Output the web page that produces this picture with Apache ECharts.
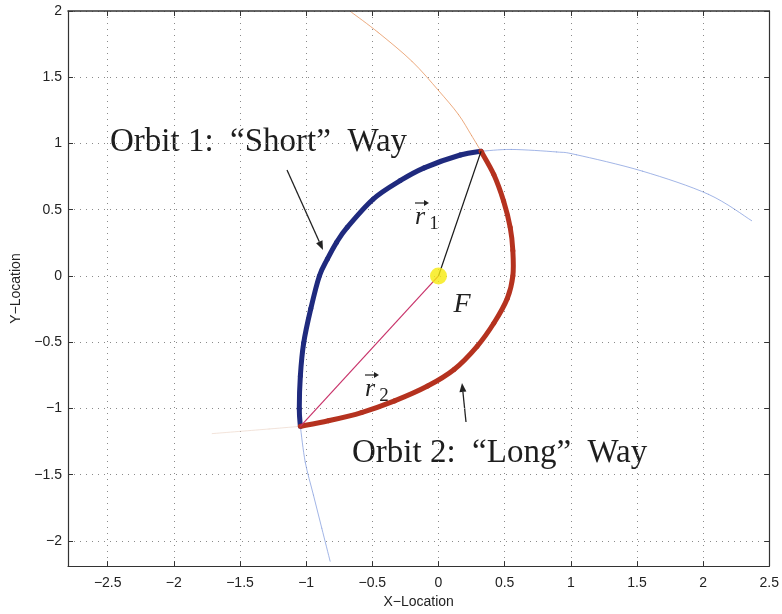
<!DOCTYPE html>
<html>
<head>
<meta charset="utf-8">
<script src="https://cdn.jsdelivr.net/npm/echarts@6/dist/echarts.min.js"></script>
<style>html,body{margin:0;padding:0;background:#fff;}#c{width:782px;height:614px;}</style>
</head>
<body>
<div id="c"></div>
<script>
// ---- data ----
const xTicks = [-2.5, -2, -1.5, -1, -0.5, 0, 0.5, 1, 1.5, 2, 2.5];
const yTicks = [-2, -1.5, -1, -0.5, 0, 0.5, 1, 1.5, 2];
const focus = [[0, 0]];
const p1 = [0.322, 0.941];
const p2 = [-1.044, -1.135];
const orbit1Short = [[0.322,0.941],[0.165,0.913],[-0.108,0.816],[-0.29,0.719],[-0.495,0.579],[-0.69,0.367],[-0.77,0.254],[-0.84,0.127],[-0.9,0.0],[-0.965,-0.247],[-1.019,-0.507],[-1.044,-0.756],[-1.052,-1.003],[-1.044,-1.135]];
const orbit2Long = [[0.322,0.941],[0.418,0.766],[0.492,0.566],[0.542,0.367],[0.562,0.192],[0.562,0.0],[0.52,-0.17],[0.418,-0.357],[0.292,-0.531],[0.118,-0.706],[-0.082,-0.831],[-0.332,-0.943],[-0.582,-1.031],[-0.832,-1.093],[-1.044,-1.135]];
const orbit1FarRight = [[0.322,0.941],[0.55,0.955],[0.892,0.936],[1.042,0.915],[1.542,0.791],[2.041,0.616],[2.367,0.417]];
const orbit1FarDown = [[-1.044,-1.135],[-1.007,-1.405],[-0.945,-1.654],[-0.882,-1.904],[-0.819,-2.153]];
const orbit2FarUp = [[0.322,0.941],[0.25,1.06],[0.15,1.22],[0.0,1.40],[-0.2,1.62],[-0.457,1.839],[-0.657,1.99]];
const orbit2FarLeft = [[-1.044,-1.135],[-1.28,-1.155],[-1.71,-1.19]];
const r1 = [[0, 0], p1];
const r2 = [[0, 0], p2];

const chart = echarts.init(document.getElementById('c'), null, {renderer: 'canvas'});
const tickFont = {fontFamily: 'Liberation Sans', fontSize: 14, color: '#222'};
const serif = 'Liberation Serif';
const axisCol = '#333';
const fmt = v => String(v).replace('-', '\u2212');
function xAx(pos, labels) {
  return {
    type: 'value', position: pos, min: -2.8, max: 2.5,
    axisLine: {show: true, onZero: false, lineStyle: {color: axisCol, width: pos === 'top' ? 1.6 : 1.2}},
    axisTick: {show: true, inside: true, length: 5, customValues: xTicks, lineStyle: {color: axisCol}},
    axisLabel: labels ? Object.assign({show: true, margin: 10, customValues: xTicks, formatter: fmt}, tickFont) : {show: false},
    splitLine: labels ? {show: true, lineStyle: {color: '#8a8a8a', type: [1, 5], width: 1}} : {show: false},
    name: labels ? 'X\u2212Location' : '', nameLocation: 'middle', nameGap: 27,
    nameTextStyle: {fontFamily: 'Liberation Sans', fontSize: 14, color: '#222'}
  };
}
function yAx(pos, labels) {
  return {
    type: 'value', position: pos, min: -2.19, max: 2,
    axisLine: {show: true, onZero: false, lineStyle: {color: axisCol, width: 1.2}},
    axisTick: {show: true, inside: true, length: 5, customValues: yTicks, lineStyle: {color: axisCol}},
    axisLabel: labels ? Object.assign({show: true, margin: 6, customValues: yTicks, formatter: fmt}, tickFont) : {show: false},
    splitLine: labels ? {show: true, lineStyle: {color: '#8a8a8a', type: [1, 5], width: 1}} : {show: false},
    name: labels ? 'Y\u2212Location' : '', nameLocation: 'middle', nameGap: 42,
    nameTextStyle: {fontFamily: 'Liberation Sans', fontSize: 14, color: '#222'}
  };
}
// smooth curve through the read points (Catmull-Rom, drawn through the axes' scale)
function curve(data, color, width, z, opacity) {
  return {
    type: 'custom', data: data, z: z, silent: true, clip: true,
    encode: {x: 0, y: 1},
    renderItem: function (params, api) {
      const i = params.dataIndex, n = data.length;
      if (i >= n - 1) return null;
      const P = k => api.coord(data[Math.max(0, Math.min(n - 1, k))]);
      const a = P(i - 1), b = P(i), c = P(i + 1), d = P(i + 2);
      return {
        type: 'bezierCurve',
        shape: {x1: b[0], y1: b[1], x2: c[0], y2: c[1],
          cpx1: b[0] + (c[0] - a[0]) / 6, cpy1: b[1] + (c[1] - a[1]) / 6,
          cpx2: c[0] - (d[0] - b[0]) / 6, cpy2: c[1] - (d[1] - b[1]) / 6},
        style: {stroke: color, lineWidth: width, fill: null, opacity: opacity == null ? 1 : opacity, lineCap: 'round'}
      };
    }
  };
}
function line(data, color, width, z) {
  return {type: 'line', data: data, symbol: 'none', z: z, silent: true,
    lineStyle: {color: color, width: width}};
}
function vecLabel(x, y, sub) {
  return {type: 'group', children: [
    {type: 'text', x: x, y: y, style: {text: 'r', font: 'italic 26px ' + serif, fill: '#222', textAlign: 'center', textVerticalAlign: 'middle'}},
    {type: 'text', x: x + 14, y: y + 7, style: {text: sub, font: '19px ' + serif, fill: '#222', textAlign: 'center', textVerticalAlign: 'middle'}},
    {type: 'line', shape: {x1: x - 5, y1: y - 14, x2: x + 7, y2: y - 14}, style: {stroke: '#222', lineWidth: 1.2}},
    {type: 'polygon', shape: {points: [[x + 9, y - 14], [x + 4, y - 17], [x + 4, y - 11]]}, style: {fill: '#222'}}
  ]};
}
function arrow(x1, y1, x2, y2) {
  const a = Math.atan2(y2 - y1, x2 - x1), L = 9, W = 3.5;
  const bx = x2 - L * Math.cos(a), by = y2 - L * Math.sin(a);
  return {type: 'group', children: [
    {type: 'line', shape: {x1: x1, y1: y1, x2: bx, y2: by}, style: {stroke: '#222', lineWidth: 1.3}},
    {type: 'polygon', shape: {points: [[x2, y2], [bx + W * Math.sin(a), by - W * Math.cos(a)], [bx - W * Math.sin(a), by + W * Math.cos(a)]]}, style: {fill: '#222'}}
  ]};
}

chart.setOption({
  animation: false,
  backgroundColor: '#fff',
  grid: {left: 68, top: 11, width: 708, height: 561, containLabel: false},
  xAxis: [xAx('bottom', true), xAx('top', false)],
  yAxis: [yAx('left', true), yAx('right', false)],
  series: [
    curve(orbit1FarRight, '#7d98dc', 0.9, 2, 0.8),
    curve(orbit1FarDown, '#7d98dc', 0.9, 2, 0.8),
    curve(orbit2FarUp, '#e58a4e', 0.9, 2, 0.8),
    curve(orbit2FarLeft, '#ead2c4', 0.9, 2, 0.7),
    curve(orbit1Short, '#1f2a7e', 5, 4),
    curve(orbit2Long, '#b5321f', 5, 4),
    line(r1, '#1a1a1a', 1.2, 5),
    line(r2, '#c8336a', 1.2, 5),
    {type: 'scatter', data: focus, symbolSize: 17, z: 6, silent: true,
      itemStyle: {color: '#f6ea0c'}}
  ],
  graphic: [
    {type: 'text', left: 110, top: 126, style: {text: 'Orbit 1:  \u201CShort\u201D  Way', font: '33px ' + serif, fill: '#1e1e1e'}},
    {type: 'text', left: 352, top: 437, style: {text: 'Orbit 2:  \u201CLong\u201D  Way', font: '33px ' + serif, fill: '#1e1e1e'}},
    {type: 'text', x: 462, y: 305, style: {text: 'F', font: 'italic 28px ' + serif, fill: '#222', textAlign: 'center', textVerticalAlign: 'middle'}},
    vecLabel(420, 217, '1'),
    vecLabel(370, 389, '2'),
    arrow(287, 170, 323, 250),
    arrow(466, 422, 462, 383)
  ]
});
</script>
</body>
</html>
